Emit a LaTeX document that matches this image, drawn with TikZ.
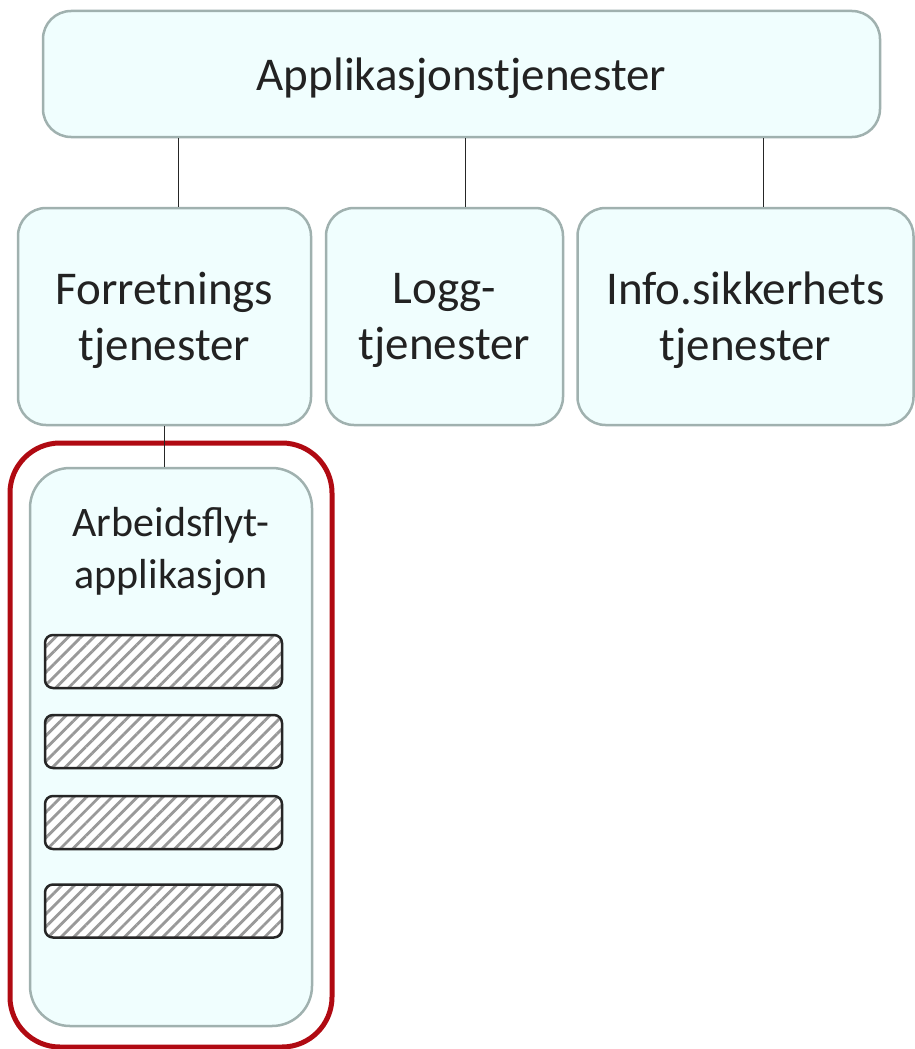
\documentclass[tikz,border=0pt]{standalone}
\usepackage{fontspec}
\setmainfont{Carlito}
\usetikzlibrary{patterns.meta}
\definecolor{boxfill}{HTML}{F0FEFE}
\definecolor{boxline}{HTML}{A0B1AF}
\definecolor{frame}{HTML}{B00A12}
\definecolor{txt}{HTML}{222222}
\begin{document}
\begin{tikzpicture}[x=1pt, y=-1pt,
  service/.style={draw=boxline, fill=boxfill, line width=2.5pt, rounded corners=28pt,
    text=txt, align=center, inner sep=0pt, text depth=0pt, font=\fontsize{47}{56}\selectfont},
  bar/.style={draw=black!85, line width=2.5pt, rounded corners=8pt,
    minimum width=237pt, minimum height=53pt, inner sep=0pt,
    preaction={fill=white},
    pattern={Lines[angle=45, distance=9pt, line width=2.8pt]}, pattern color=black!40},
  link/.style={draw=black!85, line width=1pt}]
\useasboundingbox (0,0) rectangle (914,1049);

% top level
\node[service, minimum width=837pt, minimum height=126pt] (apps) at (461.5,74) {Applikasjonstjenester};

% second level
\node[service, minimum width=293pt, minimum height=217pt] (biz) at (164.5,316.5) {Forretnings\\tjenester};
\node[service, minimum width=237pt, minimum height=217pt] (log) at (444.5,316.5) {Logg-\\tjenester};
\node[service, minimum width=336pt, minimum height=217pt] (sec) at (745.5,316.5) {Info.sikkerhets\\tjenester};

\draw[link] ([xshift=13.5pt]biz.north) -- ([xshift=13.5pt]biz.north |- apps.south);
\draw[link] ([xshift=20.5pt]log.north) -- ([xshift=20.5pt]log.north |- apps.south);
\draw[link] ([xshift=17.5pt]sec.north) -- ([xshift=17.5pt]sec.north |- apps.south);

% workflow application
\node[draw=frame, line width=5pt, rounded corners=50pt, minimum width=322pt, minimum height=604pt] (sel) at (171,745) {};
\node[service, rounded corners=40pt, minimum width=282pt, minimum height=558pt] (flow) at (171,747) {};
\node[text=txt, align=center, font=\fontsize{42}{52}\selectfont] (flowlbl) at (171,552) {Arbeidsflyt-\\applikasjon};
\draw[link] (biz.south) -- (biz.south |- flow.north);

\node[bar] (b1) at (163.5,661.5) {};
\node[bar] (b2) at (163.5,741.5) {};
\node[bar] (b3) at (163.5,822.5) {};
\node[bar] (b4) at (163.5,911) {};
\end{tikzpicture}
\end{document}
